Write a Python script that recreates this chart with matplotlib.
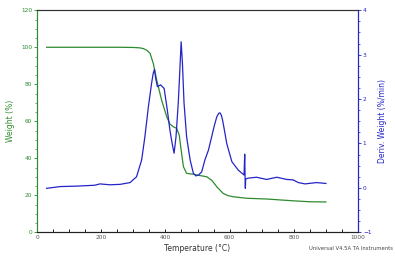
import matplotlib
matplotlib.use("Agg")
import matplotlib.pyplot as plt
from matplotlib.ticker import MultipleLocator

# weight curve (TGA)
temp_w = [30, 100, 200, 259, 300, 320, 331, 342, 352, 362, 373, 388, 404, 414, 425, 435, 443, 449, 456,
          466, 476, 487, 497, 529, 545, 560, 580, 595, 612, 653, 715, 757, 800, 850, 900]
weight = [100, 100, 100, 100, 99.9, 99.7, 99.3, 98.4, 96.8, 91.4, 82.3, 71.5, 62.5, 58.5, 57.0, 56.2, 52.6, 44.5, 35.5,
          31.9, 31.6, 31.4, 31.0, 30.0, 28.0, 24.6, 21.0, 19.8, 19.2, 18.4, 18.0, 17.5, 17.0, 16.5, 16.4]

# derivative curve (DTG)
temp_d = [30, 72, 124, 180, 196, 227, 259, 290, 310, 326, 336, 347, 357, 362, 366, 370, 375, 385, 396,
          406, 414, 421, 427, 433, 440, 445, 449, 453, 458, 466, 477, 487, 495, 503, 513,
          523, 534, 544, 553, 560, 566, 570, 574, 578, 585, 591, 607, 627, 645, 647, 648, 649, 650, 658, 684,
          715, 747, 778, 798, 814, 835, 871, 900]
deriv = [-0.01, 0.03, 0.04, 0.06, 0.09, 0.07, 0.08, 0.12, 0.25, 0.63, 1.15, 1.83, 2.36, 2.58, 2.67, 2.45, 2.28, 2.32, 2.24,
         1.75, 1.30, 1.0, 0.78, 1.15, 1.91, 2.66, 3.29, 2.81, 1.91, 1.15, 0.63, 0.33, 0.27, 0.29, 0.36,
         0.63, 0.85, 1.15, 1.42, 1.60, 1.68, 1.69, 1.64, 1.53, 1.25, 1.0, 0.59, 0.40, 0.29, 0.76, 0.29, -0.01, 0.2, 0.22, 0.24,
         0.19, 0.24, 0.19, 0.18, 0.12, 0.09, 0.12, 0.10]

green = "#2e8b2e"
blue = "#2424c8"

fig = plt.figure(figsize=(3.95, 2.57), dpi=100)
ax = fig.add_axes([0.0937, 0.0961, 0.8127, 0.8639])
ax2 = ax.twinx()

ax.plot(temp_w, weight, color=green, linewidth=0.9)
ax2.plot(temp_d, deriv, color=blue, linewidth=0.9)

ax.set_xlim(0, 1000)
ax.set_ylim(0, 120)
ax2.set_ylim(-1, 4)

ax.xaxis.set_major_locator(MultipleLocator(200))
ax.xaxis.set_minor_locator(MultipleLocator(50))
ax.yaxis.set_major_locator(MultipleLocator(20))
ax.yaxis.set_minor_locator(MultipleLocator(5))
ax2.yaxis.set_major_locator(MultipleLocator(1))
ax2.yaxis.set_minor_locator(MultipleLocator(0.25))

ax.tick_params(axis="x", which="both", direction="in", length=2, width=0.6, labelsize=4.2,
               labelcolor="#555555", pad=2)
ax.tick_params(axis="y", which="major", direction="out", length=2, width=0.6, color=green,
               labelsize=4.2, labelcolor=green, pad=1.5)
ax.tick_params(axis="y", which="minor", direction="out", length=1.2, width=0.5, color=green)
ax2.tick_params(axis="y", which="major", direction="out", length=2, width=0.6, color=blue,
                labelsize=4.2, labelcolor=blue, pad=1.5)
ax2.tick_params(axis="y", which="minor", direction="out", length=1.2, width=0.5, color=blue)

for a in (ax, ax2):
    a.spines["left"].set_color(green)
    a.spines["right"].set_color(blue)
    a.spines["top"].set_color("#333333")
    a.spines["bottom"].set_color("#222222")
    for s in a.spines.values():
        s.set_linewidth(0.8)

ax.set_xlabel("Temperature (°C)", fontsize=5.5, color="#333333", labelpad=3)
ax.set_ylabel("Weight (%)", fontsize=5.5, color=green, labelpad=4)
ax2.set_ylabel("Deriv. Weight (%/min)", fontsize=5.5, color=blue, labelpad=5)

fig.text(0.995, 0.035, "Universal V4.5A TA Instruments", fontsize=3.8, color="#444444",
         ha="right", va="center")

fig.savefig("out.png", dpi=100)
